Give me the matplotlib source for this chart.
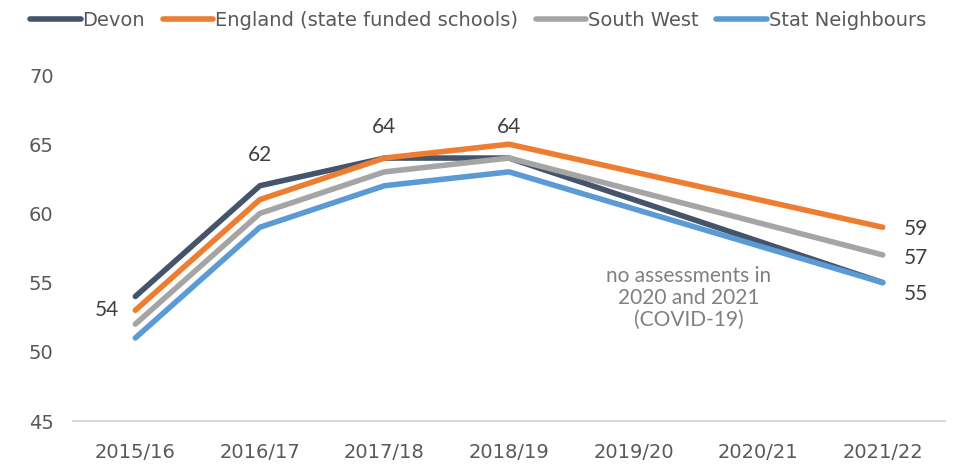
import numpy as np
import matplotlib
matplotlib.use("Agg")
import matplotlib.pyplot as plt

## data, nan = no assessment that year
years = ["2015/16", "2016/17", "2017/18", "2018/19", "2019/20", "2020/21", "2021/22"]
devon = [54, 62, 64, 64, np.nan, np.nan, 55]
england = [53, 61, 64, 65, np.nan, np.nan, 59]
south_west = [52, 60, 63, 64, np.nan, np.nan, 57]
stat_neigh = [51, 59, 62, 63, np.nan, np.nan, 55]

names = ["Devon", "England (state funded schools)", "South West", "Stat Neighbours"]
colours = ["#44546A", "#ED7D31", "#A5A5A5", "#5B9BD5"]

calib = ["Lato", "DejaVu Sans"]

fig = plt.figure(figsize=(9.56, 4.65), dpi=100)
ax = fig.add_axes([0.0764, 0.0946, 0.9121, 0.7441])

x = np.arange(len(years))
for vals, name, col in zip([devon, england, south_west, stat_neigh], names, colours):
    v = np.array(vals, dtype=float)
    ok = ~np.isnan(v)
    ax.plot(x[ok], v[ok], color=col, lw=4.0, solid_capstyle="round",
            solid_joinstyle="round", label=name)

lab_col = "#404040"
# devon labels
ax.annotate(str(devon[0]), (x[0], devon[0]), xytext=(-12, -10), textcoords="offset points",
            ha="right", va="center", fontsize=15, color=lab_col, family=calib)
for i in [1, 2, 3]:
    ax.annotate(str(devon[i]), (x[i], devon[i]), xytext=(0, 15), textcoords="offset points",
                ha="center", va="bottom", fontsize=15, color=lab_col, family=calib)
# right hand labels
ax.annotate(str(england[6]), (x[6], england[6]), xytext=(15, -1), textcoords="offset points",
            ha="left", va="center", fontsize=15, color=lab_col, family=calib)
ax.annotate(str(south_west[6]), (x[6], south_west[6]), xytext=(15, -2), textcoords="offset points",
            ha="left", va="center", fontsize=15, color=lab_col, family=calib)
ax.annotate(str(devon[6]), (x[6], devon[6]), xytext=(15, -8), textcoords="offset points",
            ha="left", va="center", fontsize=15, color=lab_col, family=calib)

ax.text(4.44, 53.9, "no assessments in\n2020 and 2021\n(COVID-19)", ha="center", va="center",
        fontsize=15, color="#808080", family=calib, linespacing=1.1)

ax.set_xlim(-0.5, 6.5)
ax.set_ylim(45, 70)
ax.set_xticks(x)
ax.set_xticklabels(years)
ax.set_yticks(np.arange(45, 71, 5))
for s in ["top", "right", "left"]:
    ax.spines[s].set_visible(False)
ax.spines["bottom"].set_color("#D9D9D9")
ax.spines["bottom"].set_linewidth(1.5)
ax.tick_params(length=0, labelsize=14, labelcolor="#595959")
ax.tick_params(axis="x", pad=16)
ax.tick_params(axis="y", pad=14)

leg = fig.legend(loc="upper center", bbox_to_anchor=(0.5, 1.015), ncol=4, frameon=False,
                 handlelength=2.6, handletextpad=0.1, columnspacing=0.9,
                 prop={"size": 14})
for t in leg.get_texts():
    t.set_color("#595959")

fig.savefig("out.png", dpi=100)
